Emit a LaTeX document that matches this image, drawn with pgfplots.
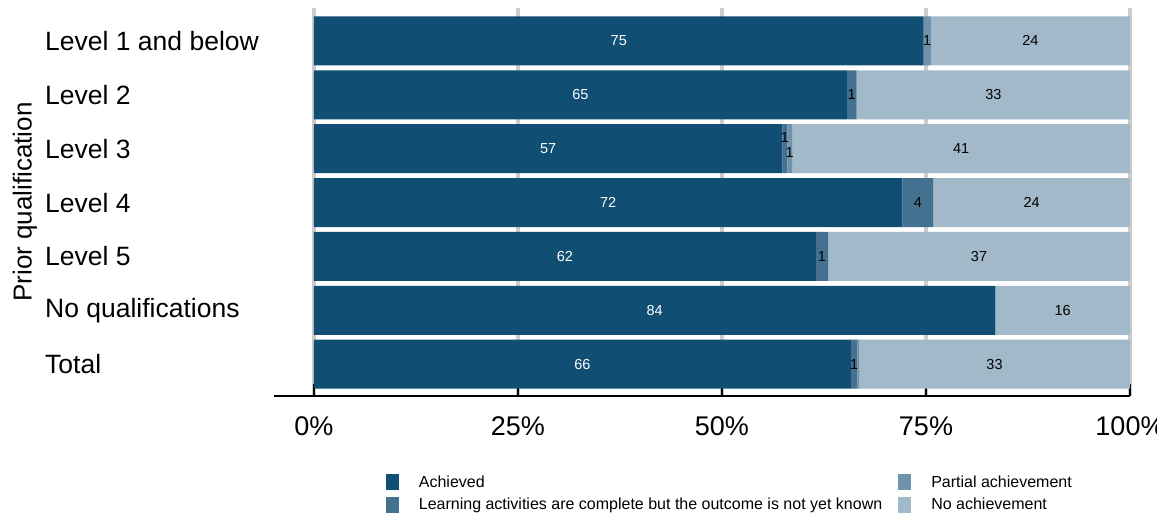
\documentclass[border=0pt]{standalone}
\usepackage{pgfplots}
\usepackage{pgfplotstable}
\pgfplotsset{compat=1.18}
\usepackage{fontspec}
\setmainfont{Liberation Sans}
\definecolor{cA}{RGB}{17,78,115}
\definecolor{cL}{RGB}{68,113,143}
\definecolor{cP}{RGB}{111,147,173}
\definecolor{cN}{RGB}{162,185,201}
\pgfplotstableread{
y x lab
6 74.7 75
5 65.3 65
4 57.4 57
3 72.1 72
2 61.5 62
1 83.5 84
0 65.8 66
}\tA
\pgfplotstableread{
y x lab
6 0 E
5 1.2 1
4 0.6 U
3 3.8 4
2 1.5 1
1 0 E
0 0.8 1
}\tL
\pgfplotstableread{
y x lab
6 0.9 1
5 0 E
4 0.6 D
3 0 E
2 0 E
1 0 E
0 0.2 E
}\tP
\pgfplotstableread{
y x lab
6 24.4 24
5 33.5 33
4 41.4 41
3 24.1 24
2 37.0 37
1 16.5 16
0 33.2 33
}\tN
\def\labU{U}\def\labD{D}\def\labE{E}
\newcommand\showlab{%
  \ifx\pgfplotspointmeta\labU\smash{\raisebox{6.4pt}{1}}%
  \else\ifx\pgfplotspointmeta\labD\smash{\raisebox{-8.6pt}{1}}%
  \else\ifx\pgfplotspointmeta\labE\relax
  \else\pgfplotspointmeta\fi\fi\fi}
\pgfplotsset{
  sqlegend/.style={legend image code/.code={\fill[##1] (0pt,-8pt) rectangle (13pt,8pt);}},
}
\begin{document}
\begin{tikzpicture}[x=1pt,y=1pt]
\useasboundingbox (0,0) rectangle (1157,512);
\begin{axis}[
  at={(274pt,116pt)}, anchor=south west,
  scale only axis, width=856pt, height=388pt,
  xbar stacked, bar width=49pt,
  xmin=-4.9, xmax=100, ymin=-0.59, ymax=6.61,
  enlargelimits=false, clip=false,
  axis x line*=bottom,
  axis y line*=left,
  y axis line style={draw=none},
  x axis line style={line width=1.5pt, black},
  xtick={0,25,50,75,100},
  xticklabels={0\%,25\%,50\%,75\%,100\%},
  xtick style={black, line width=1.5pt},
  tick align=inside, major tick length=12pt,
  xticklabel style={font=\fontsize{27}{30}\selectfont, yshift=-17pt},
  xmajorgrids, grid style={line width=4pt, black!20},
  ytick={0,...,6},
  yticklabels={Total, No qualifications, Level 5, Level 4, Level 3, Level 2, Level 1 and below},
  ytick style={draw=none},
  yticklabel style={font=\fontsize{26.5}{30}\selectfont, anchor=west, inner sep=0pt, xshift=-229pt},
  ylabel={Prior qualification},
  ylabel style={font=\fontsize{26}{30}\selectfont, at={(axis description cs:-0.2909,0.5)}, anchor=center},
  point meta=explicit symbolic,
  nodes near coords={\showlab},
  nodes near coords style={font=\fontsize{14.5}{16}\selectfont, anchor=center, inner sep=0pt},
  legend style={at={(axis description cs:0.127,-0.195)}, anchor=north west, draw=none, fill=none,
    font=\fontsize{16}{18}\selectfont, legend columns=2,
    /tikz/every even column/.append style={column sep=14pt},
    /tikz/every odd column/.append style={column sep=18pt},
    row sep=5pt},
  transpose legend,
  legend cell align=left,
  sqlegend,
]
\addplot[fill=cA, draw=none, nodes near coords style={text=white}] table[x=x,y=y,meta=lab] {\tA};
\addlegendentry{Achieved}
\addplot[fill=cL, draw=none, nodes near coords style={text=black}] table[x=x,y=y,meta=lab] {\tL};
\addlegendentry{Learning activities are complete but the outcome is not yet known}
\addplot[fill=cP, draw=none, nodes near coords style={text=black}] table[x=x,y=y,meta=lab] {\tP};
\addlegendentry{Partial achievement}
\addplot[fill=cN, draw=none, nodes near coords style={text=black}] table[x=x,y=y,meta=lab] {\tN};
\addlegendentry{No achievement}
\end{axis}
\end{tikzpicture}
\end{document}
